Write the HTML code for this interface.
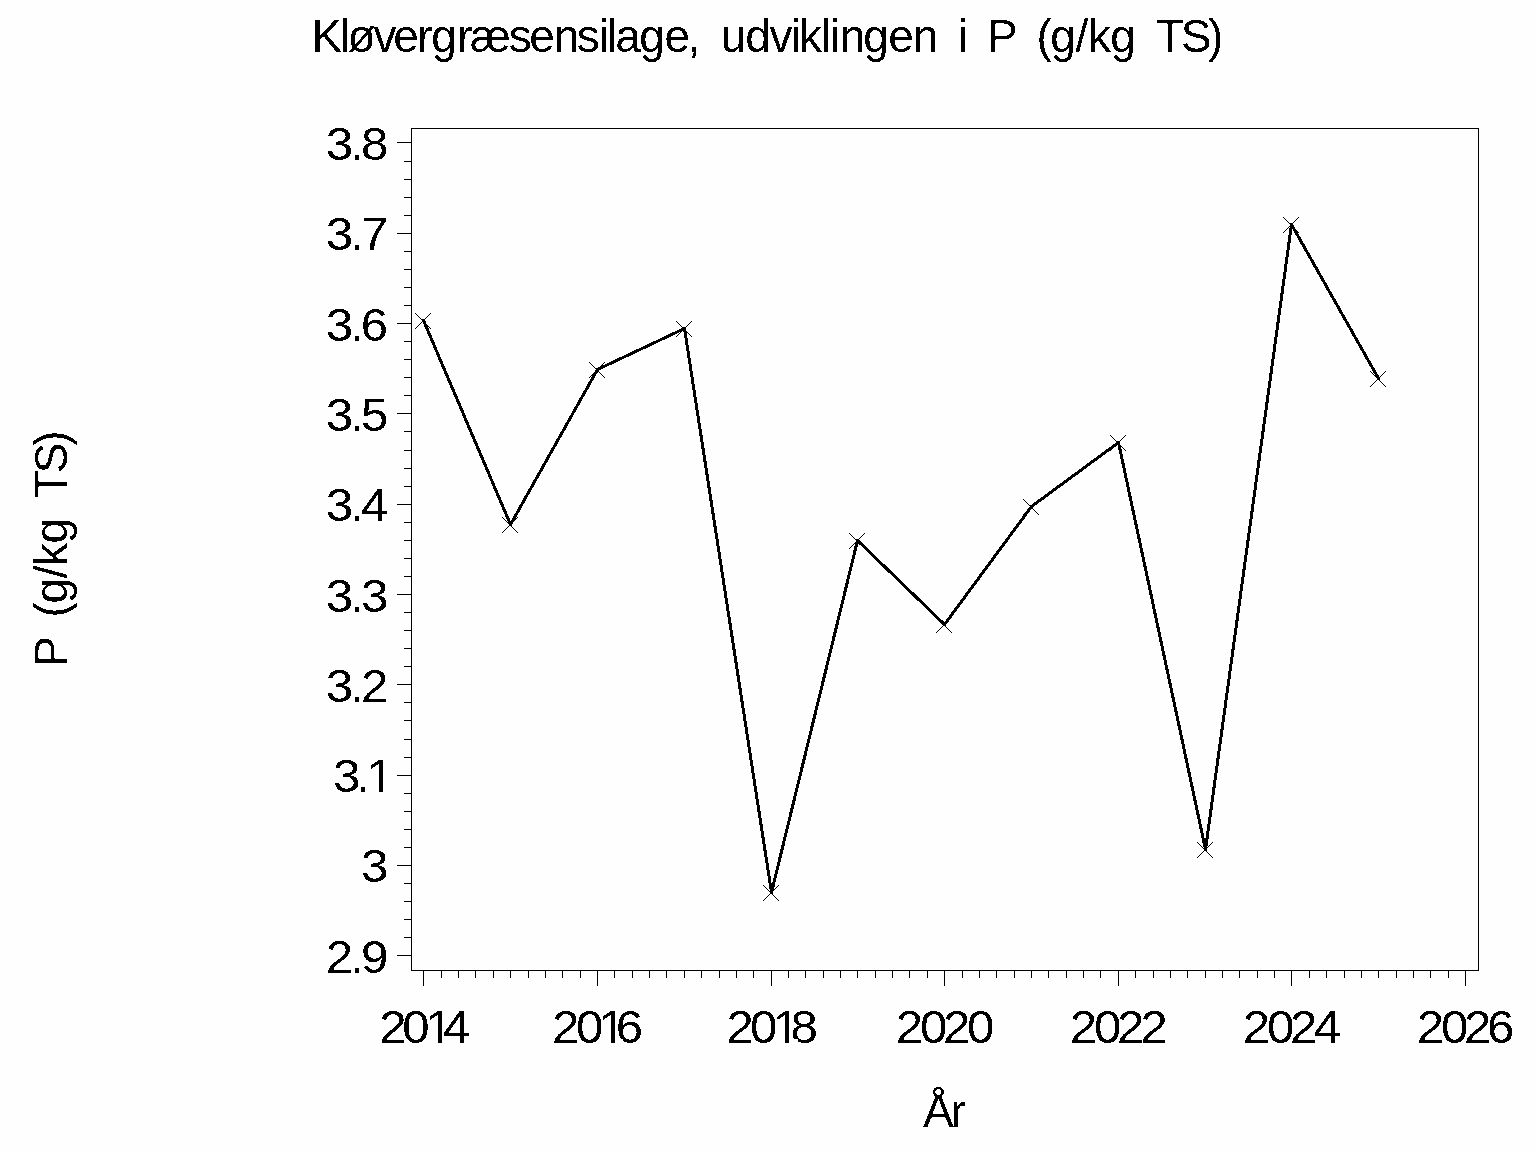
<!DOCTYPE html>
<html><head><meta charset="utf-8"><style>
html,body{margin:0;padding:0;background:#fefefe;overflow:hidden;}
svg{display:block;}
text{font-family:"Liberation Sans",Arial,sans-serif;fill:#000;}
</style></head><body>
<svg width="1536" height="1152" viewBox="0 0 1536 1152">
<defs><clipPath id="c0"><rect x="-100" y="692" width="2000" height="96"/><rect x="-100.00" y="788" width="445.61" height="24"/><rect x="353.88" y="788" width="4.07" height="24"/><rect x="365.84" y="788" width="1634.16" height="24"/></clipPath><clipPath id="c1"><rect x="-100" y="943" width="2000" height="96"/><rect x="-100.00" y="1039" width="500.75" height="24"/><rect x="409.02" y="1039" width="4.07" height="24"/><rect x="420.98" y="1039" width="1579.02" height="24"/></clipPath><clipPath id="c2"><rect x="-100" y="943" width="2000" height="96"/><rect x="-100.00" y="1039" width="662.43" height="24"/><rect x="570.70" y="1039" width="4.07" height="24"/><rect x="582.67" y="1039" width="1417.33" height="24"/></clipPath><clipPath id="c3"><rect x="-100" y="943" width="2000" height="96"/><rect x="-100.00" y="1039" width="825.52" height="24"/><rect x="733.78" y="1039" width="4.07" height="24"/><rect x="745.75" y="1039" width="1254.25" height="24"/></clipPath><filter id="bin" filterUnits="userSpaceOnUse" x="0" y="0" width="1536" height="1152" color-interpolation-filters="sRGB"><feComponentTransfer><feFuncA type="discrete" tableValues="0 1"/></feComponentTransfer></filter></defs>
<rect width="1536" height="1152" fill="#fefefe"/>
<rect x="411.5" y="128.5" width="1067" height="842" fill="none" stroke="#000" stroke-width="1" shape-rendering="crispEdges"/>
<path d="M397 142.5H411 M404 161.5H411 M404 179.5H411 M404 197.5H411 M404 215.5H411 M397 233.5H411 M404 251.5H411 M404 269.5H411 M404 287.5H411 M404 305.5H411 M397 323.5H411 M404 341.5H411 M404 359.5H411 M404 377.5H411 M404 395.5H411 M397 413.5H411 M404 431.5H411 M404 450.5H411 M404 468.5H411 M404 486.5H411 M397 504.5H411 M404 522.5H411 M404 540.5H411 M404 558.5H411 M404 576.5H411 M397 594.5H411 M404 612.5H411 M404 630.5H411 M404 648.5H411 M404 666.5H411 M397 684.5H411 M404 702.5H411 M404 720.5H411 M404 739.5H411 M404 757.5H411 M397 775.5H411 M404 793.5H411 M404 811.5H411 M404 829.5H411 M404 847.5H411 M397 865.5H411 M404 883.5H411 M404 901.5H411 M404 919.5H411 M404 937.5H411 M397 955.5H411 M423.5 971V986 M441.5 971V978 M458.5 971V978 M475.5 971V978 M493.5 971V978 M510.5 971V978 M528.5 971V978 M545.5 971V978 M562.5 971V978 M580.5 971V978 M597.5 971V986 M614.5 971V978 M632.5 971V978 M649.5 971V978 M666.5 971V978 M684.5 971V978 M701.5 971V978 M719.5 971V978 M736.5 971V978 M753.5 971V978 M771.5 971V986 M788.5 971V978 M805.5 971V978 M823.5 971V978 M840.5 971V978 M857.5 971V978 M875.5 971V978 M892.5 971V978 M909.5 971V978 M927.5 971V978 M944.5 971V986 M962.5 971V978 M979.5 971V978 M996.5 971V978 M1014.5 971V978 M1031.5 971V978 M1048.5 971V978 M1066.5 971V978 M1083.5 971V978 M1100.5 971V978 M1118.5 971V986 M1135.5 971V978 M1153.5 971V978 M1170.5 971V978 M1187.5 971V978 M1205.5 971V978 M1222.5 971V978 M1239.5 971V978 M1257.5 971V978 M1274.5 971V978 M1291.5 971V986 M1309.5 971V978 M1326.5 971V978 M1344.5 971V978 M1361.5 971V978 M1378.5 971V978 M1396.5 971V978 M1413.5 971V978 M1430.5 971V978 M1448.5 971V978 M1465.5 971V986" stroke="#000" stroke-width="1" fill="none" shape-rendering="crispEdges"/>
<path d="M423.5 320.5 L510.5 524.5 L597.5 369.5 L684.5 328.5 L771.5 892.5 L857.5 540.5 L944.5 624.5 L1031.5 506.5 L1118.5 442.5 L1205.5 849.5 L1291.5 224.5 L1378.5 378.5" fill="none" stroke="#000" stroke-width="3" stroke-linejoin="round" stroke-linecap="round" shape-rendering="crispEdges"/>
<path d="M415 313h1v1h-1zM430 313h1v1h-1zM416 314h1v1h-1zM429 314h1v1h-1zM417 315h1v1h-1zM428 315h1v1h-1zM418 316h1v1h-1zM427 316h1v1h-1zM419 317h1v1h-1zM426 317h1v1h-1zM420 318h1v1h-1zM425 318h1v1h-1zM421 319h1v1h-1zM424 319h1v1h-1zM422 320h1v1h-1zM423 320h1v1h-1zM423 321h1v1h-1zM422 321h1v1h-1zM424 322h1v1h-1zM421 322h1v1h-1zM425 323h1v1h-1zM420 323h1v1h-1zM426 324h1v1h-1zM419 324h1v1h-1zM427 325h1v1h-1zM418 325h1v1h-1zM428 326h1v1h-1zM417 326h1v1h-1zM429 327h1v1h-1zM416 327h1v1h-1zM430 328h1v1h-1zM415 328h1v1h-1zM502 517h1v1h-1zM517 517h1v1h-1zM503 518h1v1h-1zM516 518h1v1h-1zM504 519h1v1h-1zM515 519h1v1h-1zM505 520h1v1h-1zM514 520h1v1h-1zM506 521h1v1h-1zM513 521h1v1h-1zM507 522h1v1h-1zM512 522h1v1h-1zM508 523h1v1h-1zM511 523h1v1h-1zM509 524h1v1h-1zM510 524h1v1h-1zM510 525h1v1h-1zM509 525h1v1h-1zM511 526h1v1h-1zM508 526h1v1h-1zM512 527h1v1h-1zM507 527h1v1h-1zM513 528h1v1h-1zM506 528h1v1h-1zM514 529h1v1h-1zM505 529h1v1h-1zM515 530h1v1h-1zM504 530h1v1h-1zM516 531h1v1h-1zM503 531h1v1h-1zM517 532h1v1h-1zM502 532h1v1h-1zM589 362h1v1h-1zM604 362h1v1h-1zM590 363h1v1h-1zM603 363h1v1h-1zM591 364h1v1h-1zM602 364h1v1h-1zM592 365h1v1h-1zM601 365h1v1h-1zM593 366h1v1h-1zM600 366h1v1h-1zM594 367h1v1h-1zM599 367h1v1h-1zM595 368h1v1h-1zM598 368h1v1h-1zM596 369h1v1h-1zM597 369h1v1h-1zM597 370h1v1h-1zM596 370h1v1h-1zM598 371h1v1h-1zM595 371h1v1h-1zM599 372h1v1h-1zM594 372h1v1h-1zM600 373h1v1h-1zM593 373h1v1h-1zM601 374h1v1h-1zM592 374h1v1h-1zM602 375h1v1h-1zM591 375h1v1h-1zM603 376h1v1h-1zM590 376h1v1h-1zM604 377h1v1h-1zM589 377h1v1h-1zM676 321h1v1h-1zM691 321h1v1h-1zM677 322h1v1h-1zM690 322h1v1h-1zM678 323h1v1h-1zM689 323h1v1h-1zM679 324h1v1h-1zM688 324h1v1h-1zM680 325h1v1h-1zM687 325h1v1h-1zM681 326h1v1h-1zM686 326h1v1h-1zM682 327h1v1h-1zM685 327h1v1h-1zM683 328h1v1h-1zM684 328h1v1h-1zM684 329h1v1h-1zM683 329h1v1h-1zM685 330h1v1h-1zM682 330h1v1h-1zM686 331h1v1h-1zM681 331h1v1h-1zM687 332h1v1h-1zM680 332h1v1h-1zM688 333h1v1h-1zM679 333h1v1h-1zM689 334h1v1h-1zM678 334h1v1h-1zM690 335h1v1h-1zM677 335h1v1h-1zM691 336h1v1h-1zM676 336h1v1h-1zM763 885h1v1h-1zM778 885h1v1h-1zM764 886h1v1h-1zM777 886h1v1h-1zM765 887h1v1h-1zM776 887h1v1h-1zM766 888h1v1h-1zM775 888h1v1h-1zM767 889h1v1h-1zM774 889h1v1h-1zM768 890h1v1h-1zM773 890h1v1h-1zM769 891h1v1h-1zM772 891h1v1h-1zM770 892h1v1h-1zM771 892h1v1h-1zM771 893h1v1h-1zM770 893h1v1h-1zM772 894h1v1h-1zM769 894h1v1h-1zM773 895h1v1h-1zM768 895h1v1h-1zM774 896h1v1h-1zM767 896h1v1h-1zM775 897h1v1h-1zM766 897h1v1h-1zM776 898h1v1h-1zM765 898h1v1h-1zM777 899h1v1h-1zM764 899h1v1h-1zM778 900h1v1h-1zM763 900h1v1h-1zM849 533h1v1h-1zM864 533h1v1h-1zM850 534h1v1h-1zM863 534h1v1h-1zM851 535h1v1h-1zM862 535h1v1h-1zM852 536h1v1h-1zM861 536h1v1h-1zM853 537h1v1h-1zM860 537h1v1h-1zM854 538h1v1h-1zM859 538h1v1h-1zM855 539h1v1h-1zM858 539h1v1h-1zM856 540h1v1h-1zM857 540h1v1h-1zM857 541h1v1h-1zM856 541h1v1h-1zM858 542h1v1h-1zM855 542h1v1h-1zM859 543h1v1h-1zM854 543h1v1h-1zM860 544h1v1h-1zM853 544h1v1h-1zM861 545h1v1h-1zM852 545h1v1h-1zM862 546h1v1h-1zM851 546h1v1h-1zM863 547h1v1h-1zM850 547h1v1h-1zM864 548h1v1h-1zM849 548h1v1h-1zM936 617h1v1h-1zM951 617h1v1h-1zM937 618h1v1h-1zM950 618h1v1h-1zM938 619h1v1h-1zM949 619h1v1h-1zM939 620h1v1h-1zM948 620h1v1h-1zM940 621h1v1h-1zM947 621h1v1h-1zM941 622h1v1h-1zM946 622h1v1h-1zM942 623h1v1h-1zM945 623h1v1h-1zM943 624h1v1h-1zM944 624h1v1h-1zM944 625h1v1h-1zM943 625h1v1h-1zM945 626h1v1h-1zM942 626h1v1h-1zM946 627h1v1h-1zM941 627h1v1h-1zM947 628h1v1h-1zM940 628h1v1h-1zM948 629h1v1h-1zM939 629h1v1h-1zM949 630h1v1h-1zM938 630h1v1h-1zM950 631h1v1h-1zM937 631h1v1h-1zM951 632h1v1h-1zM936 632h1v1h-1zM1023 499h1v1h-1zM1038 499h1v1h-1zM1024 500h1v1h-1zM1037 500h1v1h-1zM1025 501h1v1h-1zM1036 501h1v1h-1zM1026 502h1v1h-1zM1035 502h1v1h-1zM1027 503h1v1h-1zM1034 503h1v1h-1zM1028 504h1v1h-1zM1033 504h1v1h-1zM1029 505h1v1h-1zM1032 505h1v1h-1zM1030 506h1v1h-1zM1031 506h1v1h-1zM1031 507h1v1h-1zM1030 507h1v1h-1zM1032 508h1v1h-1zM1029 508h1v1h-1zM1033 509h1v1h-1zM1028 509h1v1h-1zM1034 510h1v1h-1zM1027 510h1v1h-1zM1035 511h1v1h-1zM1026 511h1v1h-1zM1036 512h1v1h-1zM1025 512h1v1h-1zM1037 513h1v1h-1zM1024 513h1v1h-1zM1038 514h1v1h-1zM1023 514h1v1h-1zM1110 435h1v1h-1zM1125 435h1v1h-1zM1111 436h1v1h-1zM1124 436h1v1h-1zM1112 437h1v1h-1zM1123 437h1v1h-1zM1113 438h1v1h-1zM1122 438h1v1h-1zM1114 439h1v1h-1zM1121 439h1v1h-1zM1115 440h1v1h-1zM1120 440h1v1h-1zM1116 441h1v1h-1zM1119 441h1v1h-1zM1117 442h1v1h-1zM1118 442h1v1h-1zM1118 443h1v1h-1zM1117 443h1v1h-1zM1119 444h1v1h-1zM1116 444h1v1h-1zM1120 445h1v1h-1zM1115 445h1v1h-1zM1121 446h1v1h-1zM1114 446h1v1h-1zM1122 447h1v1h-1zM1113 447h1v1h-1zM1123 448h1v1h-1zM1112 448h1v1h-1zM1124 449h1v1h-1zM1111 449h1v1h-1zM1125 450h1v1h-1zM1110 450h1v1h-1zM1197 842h1v1h-1zM1212 842h1v1h-1zM1198 843h1v1h-1zM1211 843h1v1h-1zM1199 844h1v1h-1zM1210 844h1v1h-1zM1200 845h1v1h-1zM1209 845h1v1h-1zM1201 846h1v1h-1zM1208 846h1v1h-1zM1202 847h1v1h-1zM1207 847h1v1h-1zM1203 848h1v1h-1zM1206 848h1v1h-1zM1204 849h1v1h-1zM1205 849h1v1h-1zM1205 850h1v1h-1zM1204 850h1v1h-1zM1206 851h1v1h-1zM1203 851h1v1h-1zM1207 852h1v1h-1zM1202 852h1v1h-1zM1208 853h1v1h-1zM1201 853h1v1h-1zM1209 854h1v1h-1zM1200 854h1v1h-1zM1210 855h1v1h-1zM1199 855h1v1h-1zM1211 856h1v1h-1zM1198 856h1v1h-1zM1212 857h1v1h-1zM1197 857h1v1h-1zM1283 217h1v1h-1zM1298 217h1v1h-1zM1284 218h1v1h-1zM1297 218h1v1h-1zM1285 219h1v1h-1zM1296 219h1v1h-1zM1286 220h1v1h-1zM1295 220h1v1h-1zM1287 221h1v1h-1zM1294 221h1v1h-1zM1288 222h1v1h-1zM1293 222h1v1h-1zM1289 223h1v1h-1zM1292 223h1v1h-1zM1290 224h1v1h-1zM1291 224h1v1h-1zM1291 225h1v1h-1zM1290 225h1v1h-1zM1292 226h1v1h-1zM1289 226h1v1h-1zM1293 227h1v1h-1zM1288 227h1v1h-1zM1294 228h1v1h-1zM1287 228h1v1h-1zM1295 229h1v1h-1zM1286 229h1v1h-1zM1296 230h1v1h-1zM1285 230h1v1h-1zM1297 231h1v1h-1zM1284 231h1v1h-1zM1298 232h1v1h-1zM1283 232h1v1h-1zM1370 371h1v1h-1zM1385 371h1v1h-1zM1371 372h1v1h-1zM1384 372h1v1h-1zM1372 373h1v1h-1zM1383 373h1v1h-1zM1373 374h1v1h-1zM1382 374h1v1h-1zM1374 375h1v1h-1zM1381 375h1v1h-1zM1375 376h1v1h-1zM1380 376h1v1h-1zM1376 377h1v1h-1zM1379 377h1v1h-1zM1377 378h1v1h-1zM1378 378h1v1h-1zM1378 379h1v1h-1zM1377 379h1v1h-1zM1379 380h1v1h-1zM1376 380h1v1h-1zM1380 381h1v1h-1zM1375 381h1v1h-1zM1381 382h1v1h-1zM1374 382h1v1h-1zM1382 383h1v1h-1zM1373 383h1v1h-1zM1383 384h1v1h-1zM1372 384h1v1h-1zM1384 385h1v1h-1zM1371 385h1v1h-1zM1385 386h1v1h-1zM1370 386h1v1h-1z" fill="#000" shape-rendering="crispEdges"/>
<g filter="url(#bin)">
<text x="311.48 339.93 347.48 373.50 393.35 417.20 431.23 457.20 469.78 508.69 529.35 553.67 576.69 598.90 606.88 615.23 639.18 664.38 687.51 692.51 720.79 745.23 769.50 790.90 798.92 820.88 829.90 839.67 863.23 888.25 912.67 917.67 957.90 962.90 987.04 992.04 1036.40 1050.28 1075.51 1087.92 1110.23 1115.23 1155.91 1180.67 1208.03" y="52" font-size="46" xml:space="preserve">Kløvergræsensilage, udviklingen i P (g/kg TS)</text>
<text transform="scale(1.07 1)" x="304.54 327.25 337.30" y="160.00" font-size="46">3.8</text>
<text transform="scale(1.07 1)" x="304.54 327.25 337.28" y="250.00" font-size="46">3.7</text>
<text transform="scale(1.07 1)" x="304.54 327.25 337.14" y="341.00" font-size="46">3.6</text>
<text transform="scale(1.07 1)" x="304.54 327.25 337.35" y="431.00" font-size="46">3.5</text>
<text transform="scale(1.07 1)" x="304.54 327.25 337.45" y="521.00" font-size="46">3.4</text>
<text transform="scale(1.07 1)" x="304.54 327.25 337.44" y="612.00" font-size="46">3.3</text>
<text transform="scale(1.07 1)" x="304.54 327.25 337.30" y="702.00" font-size="46">3.2</text>
<text transform="scale(1.07 1)" x="311.27 332.96 342.31" y="792.00" font-size="46" clip-path="url(#c0)">3.1</text>
<text transform="scale(1.07 1)" x="337.34" y="882.00" font-size="46">3</text>
<text transform="scale(1.07 1)" x="304.40 327.25 337.31" y="973.00" font-size="46">2.9</text>
<text transform="scale(1.07 1)" x="354.36 375.99 397.45 414.08" y="1043.00" font-size="46" clip-path="url(#c1)">2014</text>
<text transform="scale(1.07 1)" x="515.81 538.42 559.13 575.46" y="1043.00" font-size="46" clip-path="url(#c2)">2016</text>
<text transform="scale(1.07 1)" x="678.98 701.04 722.21 738.70" y="1043.00" font-size="46" clip-path="url(#c3)">2018</text>
<text transform="scale(1.07 1)" x="837.21 859.83 881.23 903.66" y="1043.00" font-size="46">2020</text>
<text transform="scale(1.07 1)" x="999.83 1022.44 1043.94 1065.99" y="1043.00" font-size="46">2022</text>
<text transform="scale(1.07 1)" x="1161.51 1184.12 1205.62 1227.82" y="1043.00" font-size="46">2024</text>
<text transform="scale(1.07 1)" x="1324.03 1346.65 1368.24 1389.71" y="1043.00" font-size="46">2026</text>
<text x="922.90" y="1127.00" font-size="46" letter-spacing="-3.000">År</text>
<g transform="translate(67 662.7) rotate(-90)"><text x="-4.06 0.94 45.30 59.18 84.41 96.82 119.13 124.13 164.81 189.57 216.93" y="0" font-size="46" xml:space="preserve">P (g/kg TS)</text></g>
</g>
</svg>
</body></html>
